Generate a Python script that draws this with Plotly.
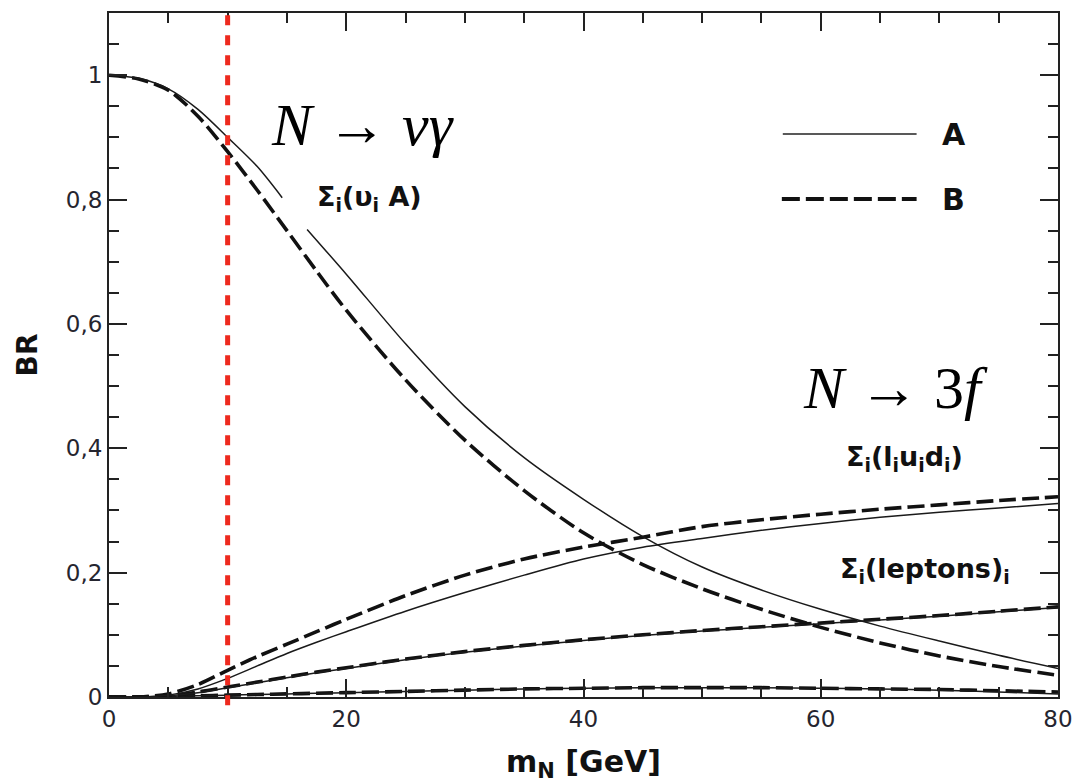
import plotly.graph_objects as go

# ---------------- data ----------------
m_grid = [0, 2.5, 5, 7.5, 10, 12.5, 15, 17.5, 20, 25, 30, 35, 40, 45, 50, 55, 60, 65, 70, 75, 80]

# N -> nu gamma, scenario A (gap where the label sits)
m_nuA = [0, 2.5, 5, 7.5, 10, 12.5, 14.6, None, 16.7, 20, 25, 30, 35, 40, 45, 50, 55, 60, 65, 70, 75, 80]
br_nuA = [1.0, 0.995, 0.978, 0.945, 0.90, 0.853, 0.803, None, 0.752, 0.68, 0.568, 0.467, 0.385,
          0.318, 0.258, 0.209, 0.172, 0.141, 0.114, 0.09, 0.067, 0.046]
# N -> nu gamma, scenario B
br_nuB = [1.0, 0.994, 0.976, 0.934, 0.877, 0.815, 0.750, 0.685, 0.622, 0.510, 0.413, 0.332,
          0.264, 0.213, 0.174, 0.141, 0.112, 0.087, 0.066, 0.049, 0.035]
# sum_i (l_i u_i d_i)
br_ludA = [0, 0, 0.003, 0.013, 0.030, 0.05, 0.07, 0.088, 0.105, 0.138, 0.168, 0.196,
           0.222, 0.241, 0.255, 0.268, 0.279, 0.289, 0.297, 0.304, 0.311]
br_ludB = [0, 0, 0.005, 0.02, 0.043, 0.065, 0.085, 0.105, 0.125, 0.163, 0.196, 0.222,
           0.241, 0.257, 0.274, 0.285, 0.294, 0.302, 0.309, 0.316, 0.322]
# sum_i (leptons)_i
br_lepA = [0, 0, 0.002, 0.007, 0.015, 0.023, 0.031, 0.039, 0.046, 0.060, 0.072, 0.082,
           0.091, 0.099, 0.106, 0.112, 0.118, 0.124, 0.130, 0.137, 0.144]
br_lepB = [0, 0, 0.002, 0.008, 0.016, 0.024, 0.032, 0.040, 0.047, 0.061, 0.073, 0.083,
           0.092, 0.100, 0.107, 0.113, 0.119, 0.125, 0.131, 0.138, 0.145]
# lowest channel
br_lowA = [0, 0, 0.001, 0.002, 0.003, 0.004, 0.005, 0.006, 0.007, 0.009, 0.011, 0.013,
           0.014, 0.015, 0.015, 0.015, 0.014, 0.013, 0.011, 0.008, 0.005]
br_lowB = [0, 0, 0.001, 0.002, 0.003, 0.004, 0.005, 0.006, 0.007, 0.009, 0.011, 0.013,
           0.014, 0.015, 0.015, 0.015, 0.014, 0.013, 0.012, 0.010, 0.008]

M_CUT = 10  # vertical red marker

x_ticks = [0, 20, 40, 60, 80]
y_ticks = [0, 0.2, 0.4, 0.6, 0.8, 1]

# ---------------- styles ----------------
SOLID = dict(color="#1a1a1a", width=1.5, shape="spline", smoothing=0.8)
DASHED = dict(color="#111111", width=3.6, dash="17px,6px", shape="spline", smoothing=0.8)

fig = go.Figure()

def add(x, y, style):
    fig.add_trace(go.Scatter(x=x, y=y, mode="lines", line=style, showlegend=False,
                             connectgaps=False, hoverinfo="skip"))

add(m_grid, br_lowB, DASHED)
add(m_grid, br_lowA, SOLID)
add(m_grid, br_lepB, DASHED)
add(m_grid, br_lepA, SOLID)
add(m_grid, br_ludB, DASHED)
add(m_grid, br_ludA, SOLID)
add(m_grid, br_nuB, DASHED)
add(m_nuA, br_nuA, SOLID)

# red dotted marker line
fig.add_shape(type="line", xref="x", yref="paper", x0=M_CUT, x1=M_CUT, y0=-0.012, y1=1.006,
              line=dict(color="#ee2a1e", width=5, dash="10px,10px"), layer="above")

# legend drawn by hand (long line samples)
fig.add_shape(type="line", xref="paper", yref="paper", x0=0.710, x1=0.851, y0=0.823, y1=0.823,
              line=dict(color="#222222", width=1.6))
fig.add_shape(type="line", xref="paper", yref="paper", x0=0.709, x1=0.851, y0=0.728, y1=0.728,
              line=dict(color="#111111", width=4, dash="18px,6px"))

BOLD = dict(family="DejaVu Sans", size=30, color="#111111", weight="bold")
fig.add_annotation(xref="paper", yref="paper", x=0.890, y=0.823, text="A", showarrow=False,
                   font=BOLD, xanchor="center", yanchor="middle")
fig.add_annotation(xref="paper", yref="paper", x=0.890, y=0.728, text="B", showarrow=False,
                   font=BOLD, xanchor="center", yanchor="middle")

SERIF = dict(family="Liberation Serif", size=60, color="#000000")
fig.add_annotation(x=21.4, y=0.92, text="<i>N</i> → <i>νγ</i>", showarrow=False, font=SERIF,
                   xanchor="center", yanchor="middle")
fig.add_annotation(x=66.3, y=0.497, text="<i>N</i> → 3<i>f</i>", showarrow=False, font=SERIF,
                   xanchor="center", yanchor="middle")

LBL = dict(family="DejaVu Sans", size=27, color="#111111", weight="bold")
fig.add_annotation(x=22.0, y=0.802, text="Σ<sub>i</sub>(υ<sub>i</sub> A)", showarrow=False,
                   font=LBL, xanchor="center", yanchor="middle")
fig.add_annotation(x=67.1, y=0.384, text="Σ<sub>i</sub>(l<sub>i</sub>u<sub>i</sub>d<sub>i</sub>)",
                   showarrow=False, font=LBL, xanchor="center", yanchor="middle")
fig.add_annotation(x=68.8, y=0.204, text="Σ<sub>i</sub>(leptons)<sub>i</sub>", showarrow=False,
                   font=LBL, xanchor="center", yanchor="middle")

axis_common = dict(showline=True, linecolor="#222222", linewidth=2, mirror="allticks",
                   ticks="inside", ticklen=18, tickwidth=1.5, tickcolor="#222222",
                   showgrid=False, zeroline=False, automargin=False,
                   tickfont=dict(family="DejaVu Sans", size=23, color="#25252f"))

fig.update_xaxes(range=[0, 80], tickvals=x_ticks,
                 minor=dict(dtick=5, ticks="inside", ticklen=10, tickwidth=1.5, tickcolor="#222222"),
                 title=dict(text="m<sub>N</sub> [GeV]", standoff=20,
                            font=dict(family="DejaVu Sans", size=30, color="#111111", weight="bold")),
                 **axis_common)
fig.update_yaxes(range=[0, 1.1], tickvals=y_ticks,
                 minor=dict(dtick=0.05, ticks="inside", ticklen=10, tickwidth=1.5, tickcolor="#222222"),
                 title=dict(text="BR", standoff=20,
                            font=dict(family="DejaVu Sans", size=28, color="#111111", weight="bold")),
                 **axis_common)

fig.update_layout(width=1074, height=784, margin=dict(l=109, r=16, t=13, b=87),
                  plot_bgcolor="white", paper_bgcolor="white", separators=", ",
                  showlegend=False)

fig.write_html("out.html")
